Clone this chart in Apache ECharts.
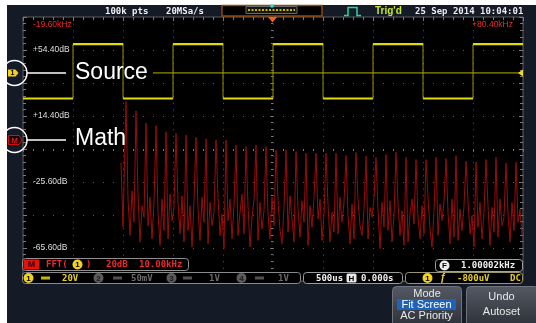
<!DOCTYPE html>
<html>
<head>
<meta charset="utf-8">
<script src="https://cdn.jsdelivr.net/npm/echarts@6/dist/echarts.min.js"></script>
<style>
  html, body { margin: 0; padding: 0; background: #fff; }
  #chart { width: 536px; height: 323px; }
</style>
</head>
<body>
<div id="chart"></div>
<script>
// CH1 square wave: time in ms (500us/div), level in V as placed on screen (20V/div)
const sqTimes = [-2.5, -2, -1.5, -1, -0.5, 0, 0.5, 1, 1.5, 2, 2.5]
const sqLevels = [30.6, 63.6, 30.6, 63.6, 30.6, 63.6, 30.6, 63.6, 30.6, 63.6, 63.6]
const trigLine = [[-1.2, 46.1], [2.5, 46.1]]

// FFT trace (kHz / dB): DC part, odd harmonic peaks and the noise floor after each peak
const dcKHz = [0, 0.4]
const dcDb = [-14, -53]
const harmonicKHz = [1, 3, 5, 7, 9, 11, 13, 15, 17, 19, 21, 23, 25, 27, 29, 31, 33, 35, 37, 39,
  41, 43, 45, 47, 49, 51, 53, 55, 57, 59, 61, 63, 65, 67, 69, 71, 73, 75, 77, 79]
const peakDb = [23.1, 17.6, 10.2, 8.5, 4.9, 3.9, 2.9, 1.5, 0.6, -0.1,
  -0.1, -3.2, -4.2, -3.2, -4.2, -6.2, -6.2, -7.2, -8.2, -8.2,
  -8.2, -8.2, -9.6, -7.8, -10.0, -10.6, -9.0, -7.6, -10.8, -12.0,
  -12.0, -10.6, -11.4, -9.6, -13.0, -13.6, -12.0, -10.6, -14.2, -13.6]
const floorDb = [
  [-36, -58, -31, -50], [-33, -62, -40, -47], [-52, -35, -60, -38], [-44, -64, -36, -55],
  [-60, -33, -49, -41], [-38, -57, -34, -62], [-55, -40, -65, -37], [-42, -61, -35, -50],
  [-63, -38, -52, -44], [-35, -58, -45, -66], [-49, -36, -60, -40], [-58, -44, -33, -57],
  [-40, -65, -47, -36], [-61, -38, -54, -43], [-45, -60, -35, -52], [-37, -55, -63, -41],
  [-56, -34, -48, -62], [-42, -59, -37, -50], [-64, -40, -53, -35], [-48, -36, -61, -45],
  [-39, -62, -44, -56], [-57, -35, -50, -38], [-46, -63, -39, -60], [-36, -52, -58, -42],
  [-60, -41, -47, -35], [-43, -66, -38, -53], [-55, -37, -62, -46], [-38, -58, -43, -64],
  [-62, -45, -36, -51], [-47, -60, -40, -57], [-35, -54, -65, -43], [-58, -39, -49, -37],
  [-44, -63, -36, -59], [-61, -42, -55, -40], [-37, -57, -46, -65], [-53, -38, -60, -44],
  [-40, -64, -41, -56], [-59, -36, -52, -47], [-45, -62, -38, -55], [-50, -42, -58]
]

// tick labels
const dbTicks = [54.4, 14.4, -25.6, -65.6]
const freqTicks = [-19.6, 80.4]

const spectrum = []
dcKHz.forEach((f, i) => spectrum.push([f, dcDb[i]]))
harmonicKHz.forEach((f, i) => {
  spectrum.push([f, peakDb[i]])
  floorDb[i].forEach((v, j) => spectrum.push([f + 0.4 * (j + 1), v]))
})
const squareData = sqTimes.map((t, i) => [t, sqLevels[i]])
// flat parts of the square wave are drawn thicker than the edges
const squareFlats = []
sqTimes.slice(0, -1).forEach((t, i) => {
  squareFlats.push([t, sqLevels[i]], [sqTimes[i + 1], sqLevels[i]], '-')
})

const chart = echarts.init(document.getElementById('chart'))

const MONO = '"DejaVu Sans Mono", monospace'
const SANS = '"Liberation Sans", Arial, sans-serif'
const NARROW = '"Liberation Sans Narrow", "Liberation Sans", sans-serif'
const dotColor = '#5a5a5a'
const tickColor = '#7a7a7a'
const red = '#f02828'
const yellow = '#e8d020'

const txt = (text, x, y, fill, font, align = 'left') => ({
  type: 'text', x, y, z: 60,
  style: { text, fill, font, align, verticalAlign: 'middle', textAlign: align, textVerticalAlign: 'middle' }
})
const rect = (x, y, width, height, style, r = 0) => ({
  type: 'rect', z: 55, shape: { x, y, width, height, r }, style
})
const dot = (cx, cy, r, fill, label, color = '#000') => [
  { type: 'circle', z: 58, shape: { cx, cy, r }, style: { fill } },
  txt(label, cx, cy + 0.5, color, 'bold 8px ' + SANS, 'center')
]

const tick = { show: true, length: 2.5, lineStyle: { color: tickColor } }
const minor = { show: true, splitNumber: 5, length: 2, lineStyle: { color: tickColor } }
const timeAxis = {
  type: 'value', min: -2.5, max: 2.5, interval: 0.5,
  axisLabel: { show: false }, splitLine: { show: false }
}
const voltAxis = {
  type: 'value', min: -80, max: 80, interval: 20,
  axisLabel: { show: false }, splitLine: { show: false }
}

const btnFill = new echarts.graphic.LinearGradient(0, 0, 0, 1, [
  { offset: 0, color: '#545963' },
  { offset: 1, color: '#2c3038' }
])

const option = {
  backgroundColor: '#141a26',
  animation: false,
  grid: {
    left: 23, top: 17, width: 500, height: 264,
    show: true, backgroundColor: '#000', borderColor: '#5e5e5e', borderWidth: 1
  },
  xAxis: [
    { ...timeAxis, axisLine: { show: false, onZero: true }, axisTick: { ...tick, inside: false }, minorTick: minor,
      splitLine: { show: true, lineStyle: { color: dotColor, type: [1, 5.6] } } },
    { ...timeAxis, axisLine: { show: false, onZero: true }, axisTick: { ...tick, inside: true }, minorTick: minor },
    { ...timeAxis, position: 'top', axisLine: { show: false, onZero: false }, axisTick: { ...tick, inside: true, length: 4 }, minorTick: { ...minor, length: 3 } },
    {
      type: 'value', min: -19.6, max: 80.4, position: 'top',
      axisLine: { show: false, onZero: false }, axisTick: { show: false }, splitLine: { show: false },
      axisLabel: {
        show: true, inside: true, customValues: freqTicks, margin: 3,
        alignMinLabel: 'left', alignMaxLabel: 'right', padding: [0, 10, 0, 10],
        color: red, fontSize: 8.5, fontFamily: NARROW,
        formatter: v => (v > 0 ? '+' : '') + v.toFixed(2) + 'kHz'
      }
    }
  ],
  yAxis: [
    { ...voltAxis, axisLine: { show: false, onZero: true }, axisTick: { ...tick, inside: false }, minorTick: minor,
      splitLine: { show: true, lineStyle: { color: dotColor, type: [1, 9] } } },
    { ...voltAxis, axisLine: { show: false, onZero: true }, axisTick: { ...tick, inside: true }, minorTick: minor },
    { ...voltAxis, position: 'left', axisLine: { show: false, onZero: false }, axisTick: { ...tick, inside: true, length: 4 }, minorTick: { ...minor, length: 3 } },
    { ...voltAxis, position: 'right', axisLine: { show: false, onZero: false }, axisTick: { ...tick, inside: true, length: 4 }, minorTick: { ...minor, length: 3 } },
    {
      type: 'value', min: -85.6, max: 74.4, position: 'left',
      axisLine: { show: false, onZero: false }, axisTick: { show: false }, splitLine: { show: false },
      axisLabel: {
        show: true, inside: true, customValues: dbTicks, margin: 10,
        color: '#dcdcdc', fontSize: 8.5, fontFamily: NARROW,
        formatter: v => (v > 0 ? '+' : '') + v.toFixed(2) + 'dB'
      }
    }
  ],
  series: [
    {
      name: 'FFT', type: 'line', xAxisIndex: 3, yAxisIndex: 4,
      data: spectrum, symbol: 'none', sampling: 'none',
      lineStyle: { color: '#9a0c0c', width: 1 }
    },
    {
      name: 'CH1 edges', type: 'line', xAxisIndex: 0, yAxisIndex: 0,
      data: squareData, step: 'end', symbol: 'none',
      lineStyle: { color: '#9a9400', width: 1 }
    },
    {
      name: 'CH1', type: 'line', xAxisIndex: 0, yAxisIndex: 0,
      data: squareFlats, symbol: 'none', connectNulls: false,
      lineStyle: { color: '#e2dc00', width: 2.2 }
    },
    {
      name: 'Trigger level', type: 'line', xAxisIndex: 0, yAxisIndex: 0,
      data: trigLine, symbol: 'none',
      lineStyle: { color: '#b8b000', width: 1 }
    }
  ],
  graphic: [
    // white page margin
    rect(0, 0, 7, 323, { fill: '#fff' }),
    rect(0, 0, 536, 5, { fill: '#fff' }),

    // top status line
    txt('100k pts', 105, 11.5, '#f0f0f0', 'bold 9px ' + MONO),
    txt('20MSa/s', 166, 11.5, '#f0f0f0', 'bold 9px ' + MONO),
    rect(222, 5.5, 100, 10.5, { fill: '#000', stroke: '#8a4b12', lineWidth: 1.5 }),
    rect(246, 6.5, 51, 7, { fill: '#16160c', stroke: '#6a6a6a', lineWidth: 1 }),
    { type: 'line', z: 57, shape: { x1: 248, y1: 10, x2: 295, y2: 10 }, style: { stroke: '#c8b400', lineWidth: 2, lineDash: [2, 1.5] } },
    { type: 'circle', z: 58, shape: { cx: 272, cy: 6, r: 1.8 }, style: { fill: '#20e0e0' } },
    { type: 'polyline', z: 58, shape: { points: [[344, 15.5], [348, 15.5], [348, 7.5], [357, 7.5], [357, 15.5], [361, 15.5]] }, style: { stroke: '#2ed39a', lineWidth: 1.5, fill: null } },
    txt("Trig'd", 375, 11.5, '#c8e632', 'bold 10px ' + SANS),
    txt('25 Sep 2014 10:04:01', 415, 11.5, '#ececec', 'bold 9px ' + MONO),
    { type: 'polygon', z: 58, shape: { points: [[268, 17], [277, 17], [272.5, 22.5]] }, style: { fill: '#ff5a1e' } },
    { type: 'polygon', z: 58, shape: { points: [[523, 69.5], [523, 76.5], [518, 73]] }, style: { fill: '#f0e020' } },

    // left markers and call-outs
    { type: 'polygon', z: 58, shape: { points: [[8, 69.5], [15.5, 69.5], [18.5, 73], [15.5, 76.5], [8, 76.5]] }, style: { fill: '#f0d020' } },
    txt('1', 12.5, 73.5, '#000', 'bold 7px ' + SANS, 'center'),
    { type: 'polygon', z: 58, shape: { points: [[8.5, 135.5], [19, 135.5], [22, 140], [19, 144.5], [8.5, 144.5]] }, style: { fill: '#1a0000', stroke: '#d01010', lineWidth: 1 } },
    txt('M', 14.5, 140.5, '#e01818', 'bold 8px ' + SANS, 'center'),
    { type: 'circle', z: 59, shape: { cx: 14.5, cy: 73, r: 12.5 }, style: { fill: null, stroke: '#fff', lineWidth: 1.5 } },
    { type: 'circle', z: 59, shape: { cx: 14.5, cy: 140, r: 12.5 }, style: { fill: null, stroke: '#fff', lineWidth: 1.5 } },
    { type: 'line', z: 59, shape: { x1: 27, y1: 73, x2: 66, y2: 73 }, style: { stroke: '#fff', lineWidth: 1.5 } },
    { type: 'line', z: 59, shape: { x1: 27, y1: 140, x2: 66, y2: 140 }, style: { stroke: '#fff', lineWidth: 1.5 } },
    txt('Source', 75, 73, '#fff', '23px ' + SANS),
    txt('Math', 75, 139, '#fff', '23px ' + SANS),

    // FFT info bar
    rect(22.5, 258.5, 166, 12, { fill: '#000', stroke: '#909090', lineWidth: 1 }, 3),
    rect(23.5, 259.5, 16, 10, { fill: '#e51010' }, 1),
    txt('M', 31.5, 265, '#3a0000', 'bold 9px ' + SANS, 'center'),
    txt('FFT(', 46, 264.5, red, 'bold 9px ' + MONO),
    ...dot(77.5, 264.5, 5, '#f2d21a', '1'),
    txt(')', 86, 264.5, red, 'bold 9px ' + MONO),
    txt('20dB', 106, 264.5, red, 'bold 9px ' + MONO),
    txt('10.00kHz', 139, 264.5, red, 'bold 9px ' + MONO),

    // frequency counter
    rect(435.5, 259.5, 87, 12, { fill: '#000', stroke: '#a0a0a0', lineWidth: 1 }, 3),
    ...dot(444.5, 265.5, 5, '#f0f0f0', 'F'),
    txt('1.00002kHz', 461, 265.5, '#f0f0f0', 'bold 9px ' + MONO),

    // channel bar
    rect(22.5, 272.5, 278, 11, { fill: '#000', stroke: '#8a8a8a', lineWidth: 1 }, 3),
    ...dot(28.5, 278, 5, '#f2d21a', '1'),
    rect(41, 276.5, 9, 3, { fill: '#c8b400' }),
    txt('20V', 62, 278.5, yellow, 'bold 9px ' + MONO),
    ...dot(98.5, 278, 5, '#5c5c5c', '2', '#1a1a1a'),
    rect(113, 276.5, 9, 3, { fill: '#505050' }),
    txt('50mV', 131, 278.5, '#6a6a6a', 'bold 9px ' + MONO),
    ...dot(171.5, 278, 5, '#5c5c5c', '3', '#1a1a1a'),
    rect(183, 276.5, 9, 3, { fill: '#505050' }),
    txt('1V', 209, 278.5, '#6a6a6a', 'bold 9px ' + MONO),
    ...dot(241.5, 278, 5, '#5c5c5c', '4', '#1a1a1a'),
    rect(255, 276.5, 9, 3, { fill: '#505050' }),
    txt('1V', 278, 278.5, '#6a6a6a', 'bold 9px ' + MONO),

    // timebase
    rect(303.5, 272.5, 99, 11, { fill: '#000', stroke: '#9a9a9a', lineWidth: 1 }, 3),
    txt('500us', 316, 278.5, '#f0f0f0', 'bold 9px ' + MONO),
    rect(346.5, 273.5, 10, 9, { fill: '#e8e8e8' }, 1.5),
    txt('H', 351.5, 278.5, '#000', 'bold 8px ' + SANS, 'center'),
    txt('0.000s', 361, 278.5, '#f0f0f0', 'bold 9px ' + MONO),

    // trigger
    rect(405.5, 272.5, 117, 11, { fill: '#000', stroke: '#9a9470', lineWidth: 1 }, 3),
    ...dot(427.5, 278, 5, '#f2d21a', '1'),
    txt('ƒ', 443, 278.5, yellow, 'bold 10px ' + SANS, 'center'),
    txt('-800uV', 457, 278.5, yellow, 'bold 9px ' + MONO),
    txt('DC', 510, 278.5, yellow, 'bold 9px ' + MONO),

    // soft buttons
    rect(392.5, 286.5, 69, 40, { fill: btnFill, stroke: '#6e737c', lineWidth: 1 }, 4),
    txt('Mode', 427, 294, '#e8e8e8', '11px ' + SANS, 'center'),
    rect(397, 299, 59, 11, { fill: '#1e63b8' }),
    txt('Fit Screen', 426.5, 304.5, '#fff', '11px ' + SANS, 'center'),
    txt('AC Priority', 426.5, 315.5, '#e8e8e8', '11px ' + SANS, 'center'),
    rect(466.5, 286.5, 72, 40, { fill: btnFill, stroke: '#6e737c', lineWidth: 1 }, 4),
    txt('Undo', 501.5, 297, '#e8e8e8', '11px ' + SANS, 'center'),
    txt('Autoset', 501.5, 312, '#e8e8e8', '11px ' + SANS, 'center')
  ]
}

chart.setOption(option)
</script>
</body>
</html>
